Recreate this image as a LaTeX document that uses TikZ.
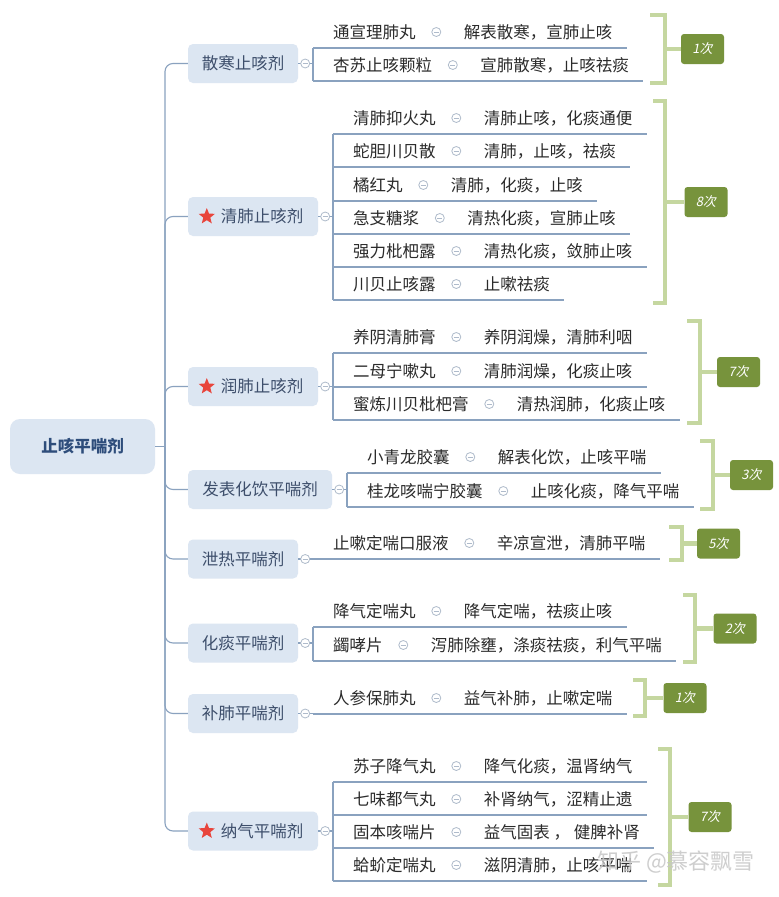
\documentclass[tikz,border=0pt]{standalone}
\usepackage{fontspec}
\setmainfont{Noto Sans CJK SC}
\newfontfamily\slantfont{Noto Sans CJK SC}[FakeSlant=0.2]
\usetikzlibrary{positioning, shapes.geometric}
\definecolor{catfill}{HTML}{DCE6F2}
\definecolor{cattext}{HTML}{3D4E6B}
\definecolor{roottext}{HTML}{2E4D7B}
\definecolor{linkblue}{HTML}{8AA2BF}
\definecolor{knobgray}{HTML}{AFBBCB}
\definecolor{bracegreen}{HTML}{C5D7A0}
\definecolor{olive}{HTML}{77933C}
\definecolor{starred}{HTML}{E8453C}
\definecolor{inktext}{HTML}{2B2B2B}
\newcommand\mapfont{\fontsize{16.5}{18}\selectfont}

\begin{document}
\begin{tikzpicture}[x=1pt, y=-1pt,
  topic/.style={rectangle, rounded corners=10pt, fill=catfill, text=roottext, minimum width=145pt, minimum height=55pt, font=\mapfont\bfseries},
  cat/.style={rectangle, rounded corners=5pt, fill=catfill, text=cattext, minimum height=39pt, font=\mapfont},
  drug/.style={anchor=west, inner sep=0pt, text=inktext, font=\mapfont},
  effect/.style={inner sep=0pt, text=inktext, font=\mapfont},
  knob/.style={circle, draw=knobgray, fill=white, line width=0.8pt, minimum size=9pt, inner sep=0pt,
    path picture={\draw[knobgray, line width=0.8pt] ([xshift=-2.5pt]path picture bounding box.center) -- ([xshift=2.5pt]path picture bounding box.center);}},
  link/.style={draw=linkblue, line width=1.1pt},
  bracket/.style={draw=bracegreen, line width=4.5pt},
  tally/.style={rectangle, rounded corners=3pt, fill=olive, text=white, minimum width=43pt, minimum height=30pt, font=\slantfont\fontsize{13}{14}\selectfont},
  star5/.style={star, star points=5, star point ratio=2.3, fill=starred, minimum size=17pt, inner sep=0pt},
  wmark/.style={text=gray!45, opacity=.85, font=\fontsize{22}{24}\selectfont}
]
\fill[white] (0,0) rectangle (779,897);
\useasboundingbox (0,0) rectangle (779,897);

\node[topic] (root) at (82.5,446.5) {止咳平喘剂};
\node[cat, minimum width=110pt] (hansan) at (243,63.5) {散寒止咳剂};
\node[cat, minimum width=130pt] (qingfei) at (253,216.5) {\hspace{18pt}清肺止咳剂};
\node[cat, minimum width=130pt] (runfei) at (253,386.5) {\hspace{18pt}润肺止咳剂};
\node[cat, minimum width=144pt] (fabiao) at (260,489.5) {发表化饮平喘剂};
\node[cat, minimum width=110pt] (xiere) at (243,559) {泄热平喘剂};
\node[cat, minimum width=110pt] (huatan) at (243,643) {化痰平喘剂};
\node[cat, minimum width=110pt] (bufei) at (243,713.5) {补肺平喘剂};
\node[cat, minimum width=130pt] (naqi) at (253,831) {\hspace{18pt}纳气平喘剂};
\foreach \c in {qingfei, runfei, naqi}
  \node[star5] at ([xshift=19pt]\c.west) {};

\draw[link] (root.east) -- (165,446.5);
\foreach \c in {hansan, qingfei, runfei, fabiao, xiere, huatan, bufei, naqi}
  \draw[link, rounded corners=8pt] (165,446.5) |- (\c.west);

\foreach \c/\vx/\ya/\yb in {hansan/313/48/81, qingfei/333/134/300, runfei/333/353/420,
    fabiao/347/473/507, xiere/313/559/559, huatan/313/627/661, bufei/313/714/714, naqi/333/782/881} {
  \draw[link] (\c.east) -- (\c.east -| \vx,0);
  \draw[link] (\vx,\ya) -- (\vx,\yb);
  \node[knob] at ([xshift=7pt]\c.east) {};
}

\foreach \vx/\y/\n/\drug/\eff in {
    313/48/h1/通宣理肺丸/解表散寒，宣肺止咳,
    313/81/h2/杏苏止咳颗粒/宣肺散寒，止咳祛痰,
    333/134/q1/清肺抑火丸/清肺止咳，化痰通便,
    333/167/q2/蛇胆川贝散/清肺，止咳，祛痰,
    333/201/q3/橘红丸/清肺，化痰，止咳,
    333/234/q4/急支糖浆/清热化痰，宣肺止咳,
    333/267/q5/强力枇杷露/清热化痰，敛肺止咳,
    333/300/q6/川贝止咳露/止嗽祛痰,
    333/353/r1/养阴清肺膏/养阴润燥，清肺利咽,
    333/387/r2/二母宁嗽丸/清肺润燥，化痰止咳,
    333/420/r3/蜜炼川贝枇杷膏/清热润肺，化痰止咳,
    347/473/f1/小青龙胶囊/解表化饮，止咳平喘,
    347/507/f2/桂龙咳喘宁胶囊/止咳化痰，降气平喘,
    313/559/x1/止嗽定喘口服液/辛凉宣泄，清肺平喘,
    313/627/t1/降气定喘丸/降气定喘，祛痰止咳,
    313/661/t2/蠲哮片/泻肺除壅，涤痰祛痰，利气平喘,
    313/714/b1/人参保肺丸/益气补肺，止嗽定喘,
    333/782/n1/苏子降气丸/降气化痰，温肾纳气,
    333/815/n2/七味都气丸/补肾纳气，涩精止遗,
    333/848/n3/固本咳喘片/益气固表 ， 健脾补肾,
    333/881/n4/蛤蚧定喘丸/滋阴清肺，止咳平喘} {
  \node[drug] (\n) at (\vx+20,\y-16) {\drug};
  \node[knob, right=15.5pt of \n] (d\n) {};
  \node[effect, right=22.5pt of d\n] (e\n) {\eff};
  \draw[link] (\vx,\y) -- (e\n.east |- \vx,\y) -- ++(14,0);
}

\foreach \k/\t/\xa/\xb/\ya/\yb/\cx in {
    k1/1次/650/665/15/83/702.5,
    k2/8次/653/665/101/303/706,
    k3/7次/687/700/321/423/738.5,
    k4/3次/700/713/441/509/751.5,
    k5/5次/669/682/527/560/718.5,
    k6/2次/683/695/595/662/735,
    k7/1次/633/645/680/716/685,
    k8/7次/658/670/749/885/710} {
  \node[tally] (\k) at (\cx,{(\ya+\yb)/2}) {\t};
  \draw[bracket] (\xa,\ya) -- (\xb,\ya) -- (\xb,\yb) -- (\xa,\yb);
  \draw[bracket] (\xb,{(\ya+\yb)/2}) -- (\k);
}

\node[wmark] (zhihu) at (676,862) {知乎 @慕容飘雪};
\end{tikzpicture}
\end{document}
